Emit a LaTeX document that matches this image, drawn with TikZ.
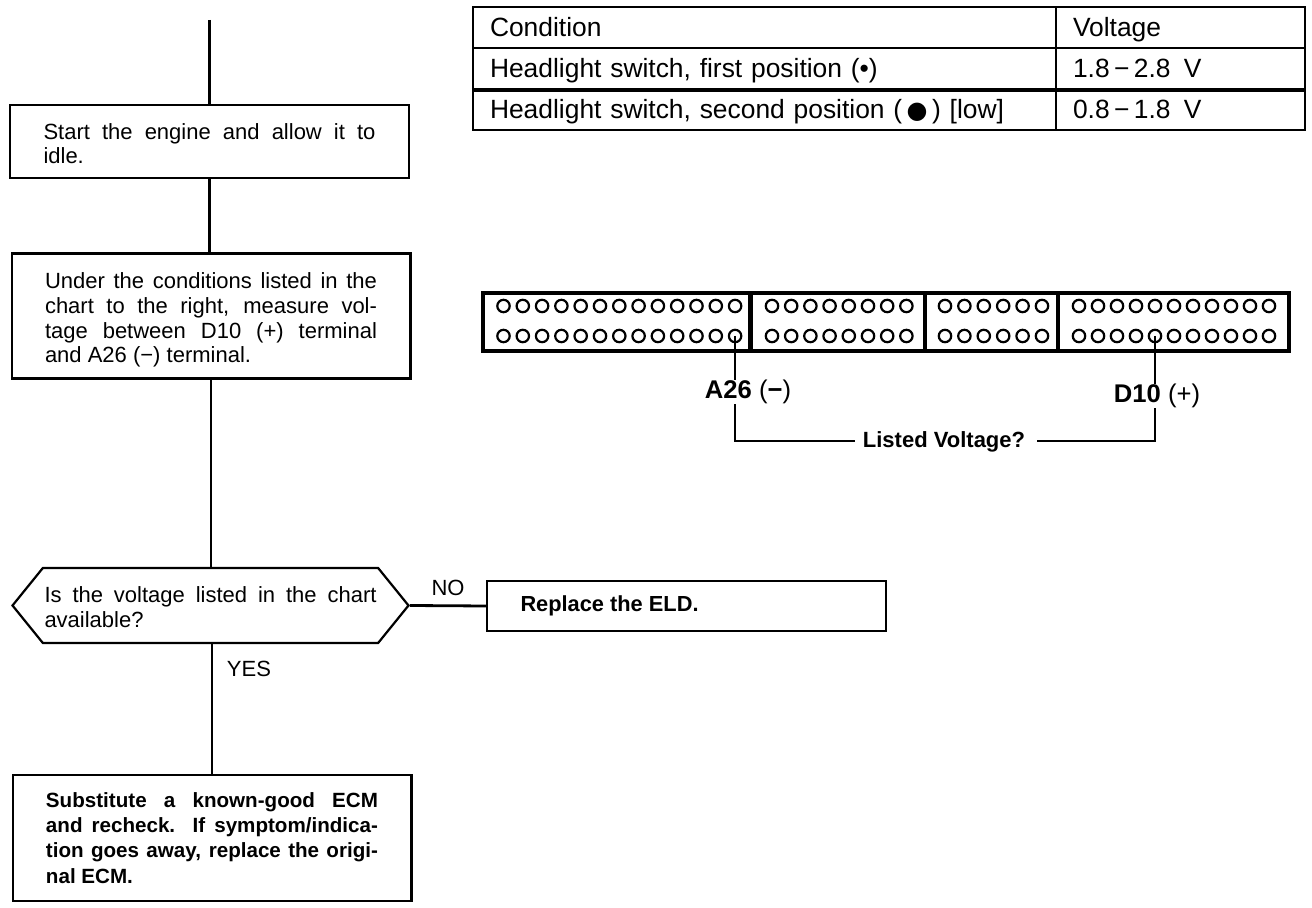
\documentclass[tikz,border=0pt]{standalone}
\usepackage{fontspec}
\setmainfont{Liberation Sans}
\newfontfamily\symfont{DejaVu Sans}
\usetikzlibrary{shapes.symbols}

\tikzset{
  stepbox/.style={draw, line width=1.1pt, text width=166pt, inner xsep=16.7pt, inner ysep=2pt,
    align=justify, font=\fontsize{11}{12.3}\selectfont},
  boldbox/.style={stepbox, font=\fontsize{10.3}{12.6}\selectfont\bfseries},
  decisionbox/.style={draw, line width=1.1pt, signal, signal to=west and east, signal from=nowhere,
    signal pointer angle=102, minimum width=198pt, minimum height=37.5pt, inner sep=0pt},
  steptext/.style={text width=166pt, align=justify, inner sep=0pt, font=\fontsize{11}{12.3}\selectfont},
  tablecell/.style={draw, line width=1.1pt, inner xsep=8.5pt, inner ysep=0pt, align=left,
    text height=11pt, text depth=2pt, font=\fontsize{13.2}{14}\selectfont},
  pinblock/.style={draw, line width=1.8pt, minimum height=29pt, inner sep=0pt},
  pinhole/.style={circle, draw, line width=1.1pt, minimum size=6.2pt, inner sep=0pt},
  flowline/.style={line width=1.1pt},
  pinline/.style={line width=1.3pt},
  lbl/.style={inner sep=0pt, font=\fontsize{11}{13}\selectfont},
  biglbl/.style={inner sep=0pt, font=\fontsize{12.8}{15}\selectfont}
}

\begin{document}
\begin{tikzpicture}[x=0.5pt,y=-0.5pt]
\useasboundingbox (0,0) rectangle (1312,908);

\coordinate (flowtop) at (209.5,20);
\node[stepbox, minimum height=36.5pt] (startbox) at (209.5,141.5) {\rule{0pt}{10pt}Start the engine and allow it to\linebreak idle.};
\node[stepbox, minimum height=62.5pt] (measurebox) at (211,316) {\rule{0pt}{12pt}Under the conditions listed in the\linebreak chart to the right, measure vol-\linebreak tage between D10 (+) terminal\linebreak and A26 (−) terminal.};
\node[decisionbox] (voltagebox) at (210.5,605.5) {};
\node[steptext] (voltagetext) at (210.5,607) {Is the voltage listed in the chart\linebreak available?};
\node[boldbox, minimum height=25pt, font=\fontsize{10.9}{12.6}\selectfont\bfseries] (replacebox) at (686.5,606) {Replace the ELD.};
\node[boldbox, minimum height=63pt] (ecmbox) at (212,838) {Substitute a known-good ECM\linebreak and recheck. If symptom/indica-\linebreak tion goes away, replace the origi-\linebreak nal ECM.};
\node[lbl] (nolabel) at (448,588) {NO};
\node[lbl] (yeslabel) at (249,669) {YES};

\draw[flowline] (flowtop) -- (startbox.north);
\draw[flowline] (startbox.south) -- (startbox.south |- measurebox.north);
\draw[flowline] (measurebox.south) -- (measurebox.south |- voltagebox.north);
\draw[flowline] (ecmbox.north) -- (ecmbox.north |- voltagebox.south);
\draw[flowline, line width=1.4pt] (voltagebox.east) -- (replacebox.west);

\node[tablecell, minimum width=291.5pt, minimum height=20.5pt, text width=274.5pt] (condhead) at (764.5,27.5) {Condition};
\node[tablecell, minimum width=124.5pt, minimum height=20.5pt, text width=107.5pt] (volthead) at (1180.5,27.5) {Voltage};
\node[tablecell, minimum width=291.5pt, minimum height=20.5pt, text width=274.5pt] (condone) at (764.5,68.5) {Headlight switch, first position (•)};
\node[tablecell, minimum width=124.5pt, minimum height=20.5pt, text width=107.5pt] (voltone) at (1180.5,68.5) {1.8\,−\,2.8 \,V};
\node[tablecell, minimum width=291.5pt, minimum height=20.5pt, text width=274.5pt] (condtwo) at (764.5,109.5) {Headlight switch, second position (\,{\symfont\fontsize{12}{14}\selectfont ●}\,) [low]};
\node[tablecell, minimum width=124.5pt, minimum height=20.5pt, text width=107.5pt] (volttwo) at (1180.5,109.5) {0.8\,−\,1.8 \,V};
\draw[line width=1.8pt] (condone.south west) -- (voltone.south east);

\node[pinblock, minimum width=133.5pt] (blocka) at (616.5,322) {};
\node[pinblock, minimum width=87pt] (blockb) at (838,322) {};
\node[pinblock, minimum width=66.5pt] (blockc) at (991.5,322) {};
\node[pinblock, minimum width=115.5pt] (blockd) at (1173.5,322) {};

\foreach \i in {0,...,12} {
  \node[pinhole] (atop\i) at ({503.5+\i*19.3},306) {};
  \node[pinhole] (a\i) at ({503.5+\i*19.3},336) {};
}
\foreach \i in {0,...,7} {
  \node[pinhole] (btop\i) at ({772+\i*19.2},306) {};
  \node[pinhole] (b\i) at ({772+\i*19.2},336) {};
}
\foreach \i in {0,...,5} {
  \node[pinhole] (ctop\i) at ({945+\i*19.4},306) {};
  \node[pinhole] (c\i) at ({945+\i*19.4},336) {};
}
\foreach \i in {0,...,10} {
  \node[pinhole] (dtop\i) at ({1079+\i*19},306) {};
  \node[pinhole] (d\i) at ({1079+\i*19},336) {};
}

\node[biglbl] (alabel) at (748,392) {\textbf{A26} (\textbf{−})};
\node[biglbl] (dlabel) at (1157,396) {\textbf{D10} (+)};
\node[lbl] (listedlabel) at (944,442) {\textbf{Listed Voltage?}};
\draw[pinline] (a12.center) -- (a12 |- alabel.north);
\draw[pinline] (d4.center) -- (d4 |- dlabel.north);
\draw[pinline] (a12 |- alabel.south) |- ([xshift=-4pt,yshift=0.5pt]listedlabel.west);
\draw[pinline] (d4 |- dlabel.south) |- ([xshift=6pt,yshift=0.5pt]listedlabel.east);

\end{tikzpicture}
\end{document}
